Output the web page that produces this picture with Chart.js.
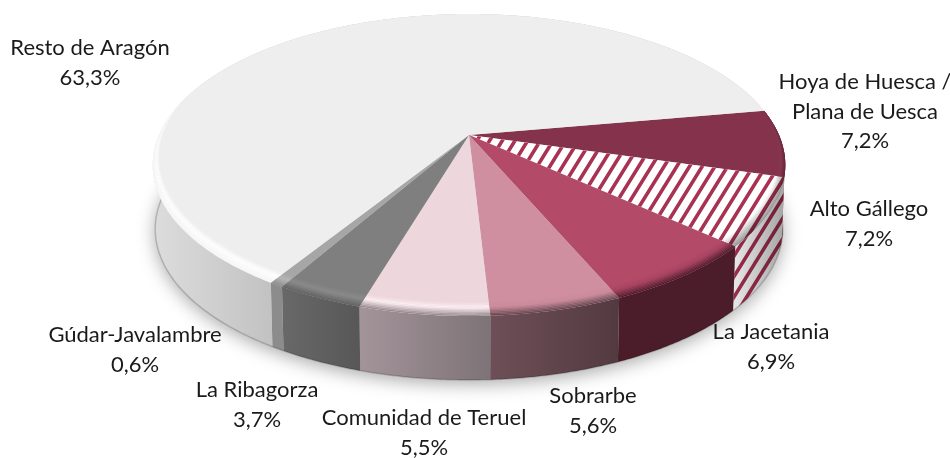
<!DOCTYPE html>
<html>
<head>
<meta charset="utf-8">
<script src="https://cdn.jsdelivr.net/npm/chart.js@4"></script>
<style>
  html, body { margin: 0; padding: 0; background: #fff; }
  #wrap { width: 950px; height: 458px; }
</style>
</head>
<body>
<div id="wrap"><canvas id="chart_comarcas"></canvas></div>
<script>
// order follows the clock, starting from the Hoya slice
const categories = ['Hoya de Huesca /\nPlana de Uesca', 'Alto Gállego', 'La Jacetania', 'Sobrarbe',
  'Comunidad de Teruel', 'La Ribagorza', 'Gúdar-Javalambre', 'Resto de Aragón'];
const shares = [7.2, 7.2, 6.9, 5.6, 5.5, 3.7, 0.6, 63.3];

const faceColors = ['#85334d', '#ffffff', '#b34a68', '#d08fa0', '#edd7dd', '#7f7f7f', '#a6a6a6', '#eeeeee'];
const rimColors = ['#8a3a52', '#dddddd', '#a54360', '#c98a9b', '#fdf0f4', '#8c8c8c', '#b8b8b8', '#ffffff'];
const rimEnds = ['#5e2238', '#909090', '#4b1c2a', '#60444c', '#918489', '#606060', '#8c8c8c', '#f6f6f6'];
const wallLeft = ['#5e2238', '#e8e8e8', '#4b1c2a', '#6e4f58', '#a3949a', '#686868', '#8c8c8c', '#dcdcdc'];
const wallRight = ['#5e2238', '#a8a8a8', '#4b1c2a', '#533a40', '#7e7377', '#575757', '#8c8c8c', '#c2c2c2'];
const hatchIndex = 1;
const hatchColor = '#a83252';

const labelCenters = [[865, 82], [869, 209], [771, 332], [593, 396], [424, 418], [257, 390], [135, 335], [90, 48]];
const lineHeight = 29.5;

// perspective of the disc, fitted on the reference
const view = { cx: 469, cy: 135, a: 310, h: 118.2, g: -0.1987, depth: 64, shrink: 0.992 };

function project(th, r, low) {
  const u = r * Math.cos(th), v = r * Math.sin(th), w = 1 + view.g * v;
  const x = view.a * u / w, y = (view.cy + view.h * v) / w;
  return low ? [view.cx + x * view.shrink, y + view.depth] : [view.cx + x, y];
}

function arcPoints(a0, a1, rFn, low) {
  const pts = [], n = Math.max(2, Math.ceil((a1 - a0) / 0.01));
  for (let i = 0; i <= n; i++) {
    const th = a0 + (a1 - a0) * i / n;
    pts.push(project(th, rFn(th), low));
  }
  return pts;
}

function tracePts(ctx, pts, move) {
  pts.forEach(function (p, i) {
    if (i === 0 && move) ctx.moveTo(p[0], p[1]); else ctx.lineTo(p[0], p[1]);
  });
}

function mix(c1, c2, t) {
  const p = function (c, i) { return parseInt(c.substr(1 + i * 2, 2), 16); };
  const o = [0, 1, 2].map(function (i) { return Math.round(p(c1, i) + (p(c2, i) - p(c1, i)) * t); });
  return 'rgb(' + o.join(',') + ')';
}

function stripes(ctx, x0, x1, y0, y1) {
  ctx.strokeStyle = hatchColor;
  ctx.lineWidth = 3.6;
  const run = (y1 - y0) * 0.62;
  ctx.beginPath();
  for (let x = x0 - 40; x < x1 + run + 40; x += 12.7) {
    ctx.moveTo(x, y0);
    ctx.lineTo(x - run, y1);
  }
  ctx.stroke();
}

function rimInner(th) {
  return 1 - Math.max(0, 0.012 + 0.05 * Math.sin(th));
}

const pie3d = {
  id: 'pie3d',
  beforeDatasetsDraw: function (chart) {
    const ctx = chart.ctx;
    const arcs = chart.getDatasetMeta(0).data;
    const full = function () { return 1; };

    // soft shadow under the base
    ctx.save();
    ctx.shadowColor = 'rgba(0,0,0,0.34)';
    ctx.shadowBlur = 18;
    ctx.shadowOffsetY = 4;
    ctx.fillStyle = '#cccccc';
    ctx.beginPath();
    tracePts(ctx, arcPoints(0, Math.PI * 2, full, true), true);
    ctx.closePath();
    ctx.fill();
    ctx.restore();

    // side walls
    arcs.forEach(function (arc, i) {
      const upper = arcPoints(arc.startAngle, arc.endAngle, full, false);
      const lower = arcPoints(arc.startAngle, arc.endAngle, full, true);
      // only the part facing the viewer counts for the gradient
      const xs = lower.filter(function (p) { return p[1] > 210; }).map(function (p) { return p[0]; });
      if (!xs.length) xs.push(0, 1);
      const grad = ctx.createLinearGradient(Math.min.apply(null, xs), 0, Math.max.apply(null, xs), 0);
      grad.addColorStop(0, wallLeft[i]);
      grad.addColorStop(1, wallRight[i]);
      ctx.save();
      ctx.beginPath();
      tracePts(ctx, upper, true);
      tracePts(ctx, lower.slice().reverse(), false);
      ctx.closePath();
      ctx.clip();
      if (i === hatchIndex) {
        ctx.fillStyle = '#ffffff';
        ctx.fillRect(0, 0, 950, 458);
        stripes(ctx, 700, 800, 150, 340);
        ctx.globalCompositeOperation = 'multiply';
      }
      ctx.fillStyle = grad;
      ctx.fillRect(0, 0, 950, 458);
      ctx.restore();
      // darker line along the foot of the wall
      ctx.save();
      ctx.beginPath();
      tracePts(ctx, lower, true);
      ctx.strokeStyle = 'rgba(0,0,0,0.18)';
      ctx.lineWidth = 1.5;
      ctx.stroke();
      ctx.restore();
    });

    // top face
    arcs.forEach(function (arc, i) {
      ctx.save();
      ctx.beginPath();
      ctx.moveTo(view.cx, view.cy);
      tracePts(ctx, arcPoints(arc.startAngle, arc.endAngle, full, false), false);
      ctx.closePath();
      ctx.fillStyle = faceColors[i];
      ctx.fill();
      if (i === hatchIndex) {
        ctx.clip();
        stripes(ctx, 460, 800, 130, 260);
      }
      ctx.restore();
    });

    // bevel between the face and the wall
    const bands = 10;
    arcs.forEach(function (arc, i) {
      const hatch = i === hatchIndex;
      for (let b = 0; b < bands; b++) {
        const t0 = b / bands, t1 = (b + 1) / bands;
        const r0 = function (th) { return rimInner(th) + (1 - rimInner(th)) * t0; };
        const r1 = function (th) { return rimInner(th) + (1 - rimInner(th)) * t1; };
        const t = (t0 + t1) / 2;
        let col;
        if (hatch) col = mix('#ffffff', rimEnds[i], t);
        else if (t < 0.4) col = mix(faceColors[i], rimColors[i], t / 0.4);
        else col = mix(rimColors[i], rimEnds[i], (t - 0.4) / 0.6);
        ctx.save();
        if (hatch) ctx.globalCompositeOperation = 'multiply';
        ctx.fillStyle = col;
        ctx.beginPath();
        tracePts(ctx, arcPoints(arc.startAngle, arc.endAngle, r0, false), true);
        tracePts(ctx, arcPoints(arc.startAngle, arc.endAngle, r1, false).reverse(), false);
        ctx.closePath();
        ctx.fill();
        ctx.restore();
      }
    });

    // labels
    ctx.save();
    ctx.font = '22px Lato';
    ctx.fillStyle = '#1a1a1a';
    ctx.textAlign = 'center';
    ctx.textBaseline = 'middle';
    categories.forEach(function (name, i) {
      const lines = name.split('\n').concat(shares[i].toFixed(1).replace('.', ',') + '%');
      lines.forEach(function (line, k) {
        ctx.fillText(line, labelCenters[i][0], labelCenters[i][1] + k * lineHeight);
      });
    });
    ctx.restore();

    return false;
  }
};

var chart_comarcas = new Chart(document.getElementById('chart_comarcas'), {
  type: 'pie',
  data: {
    labels: categories,
    datasets: [{ data: shares, backgroundColor: faceColors, borderWidth: 0 }]
  },
  options: {
    animation: false,
    responsive: true,
    maintainAspectRatio: false,
    rotation: 80,
    plugins: {
      legend: { display: false },
      title: { display: false },
      tooltip: { enabled: false }
    }
  },
  plugins: [pie3d]
});
</script>
</body>
</html>
